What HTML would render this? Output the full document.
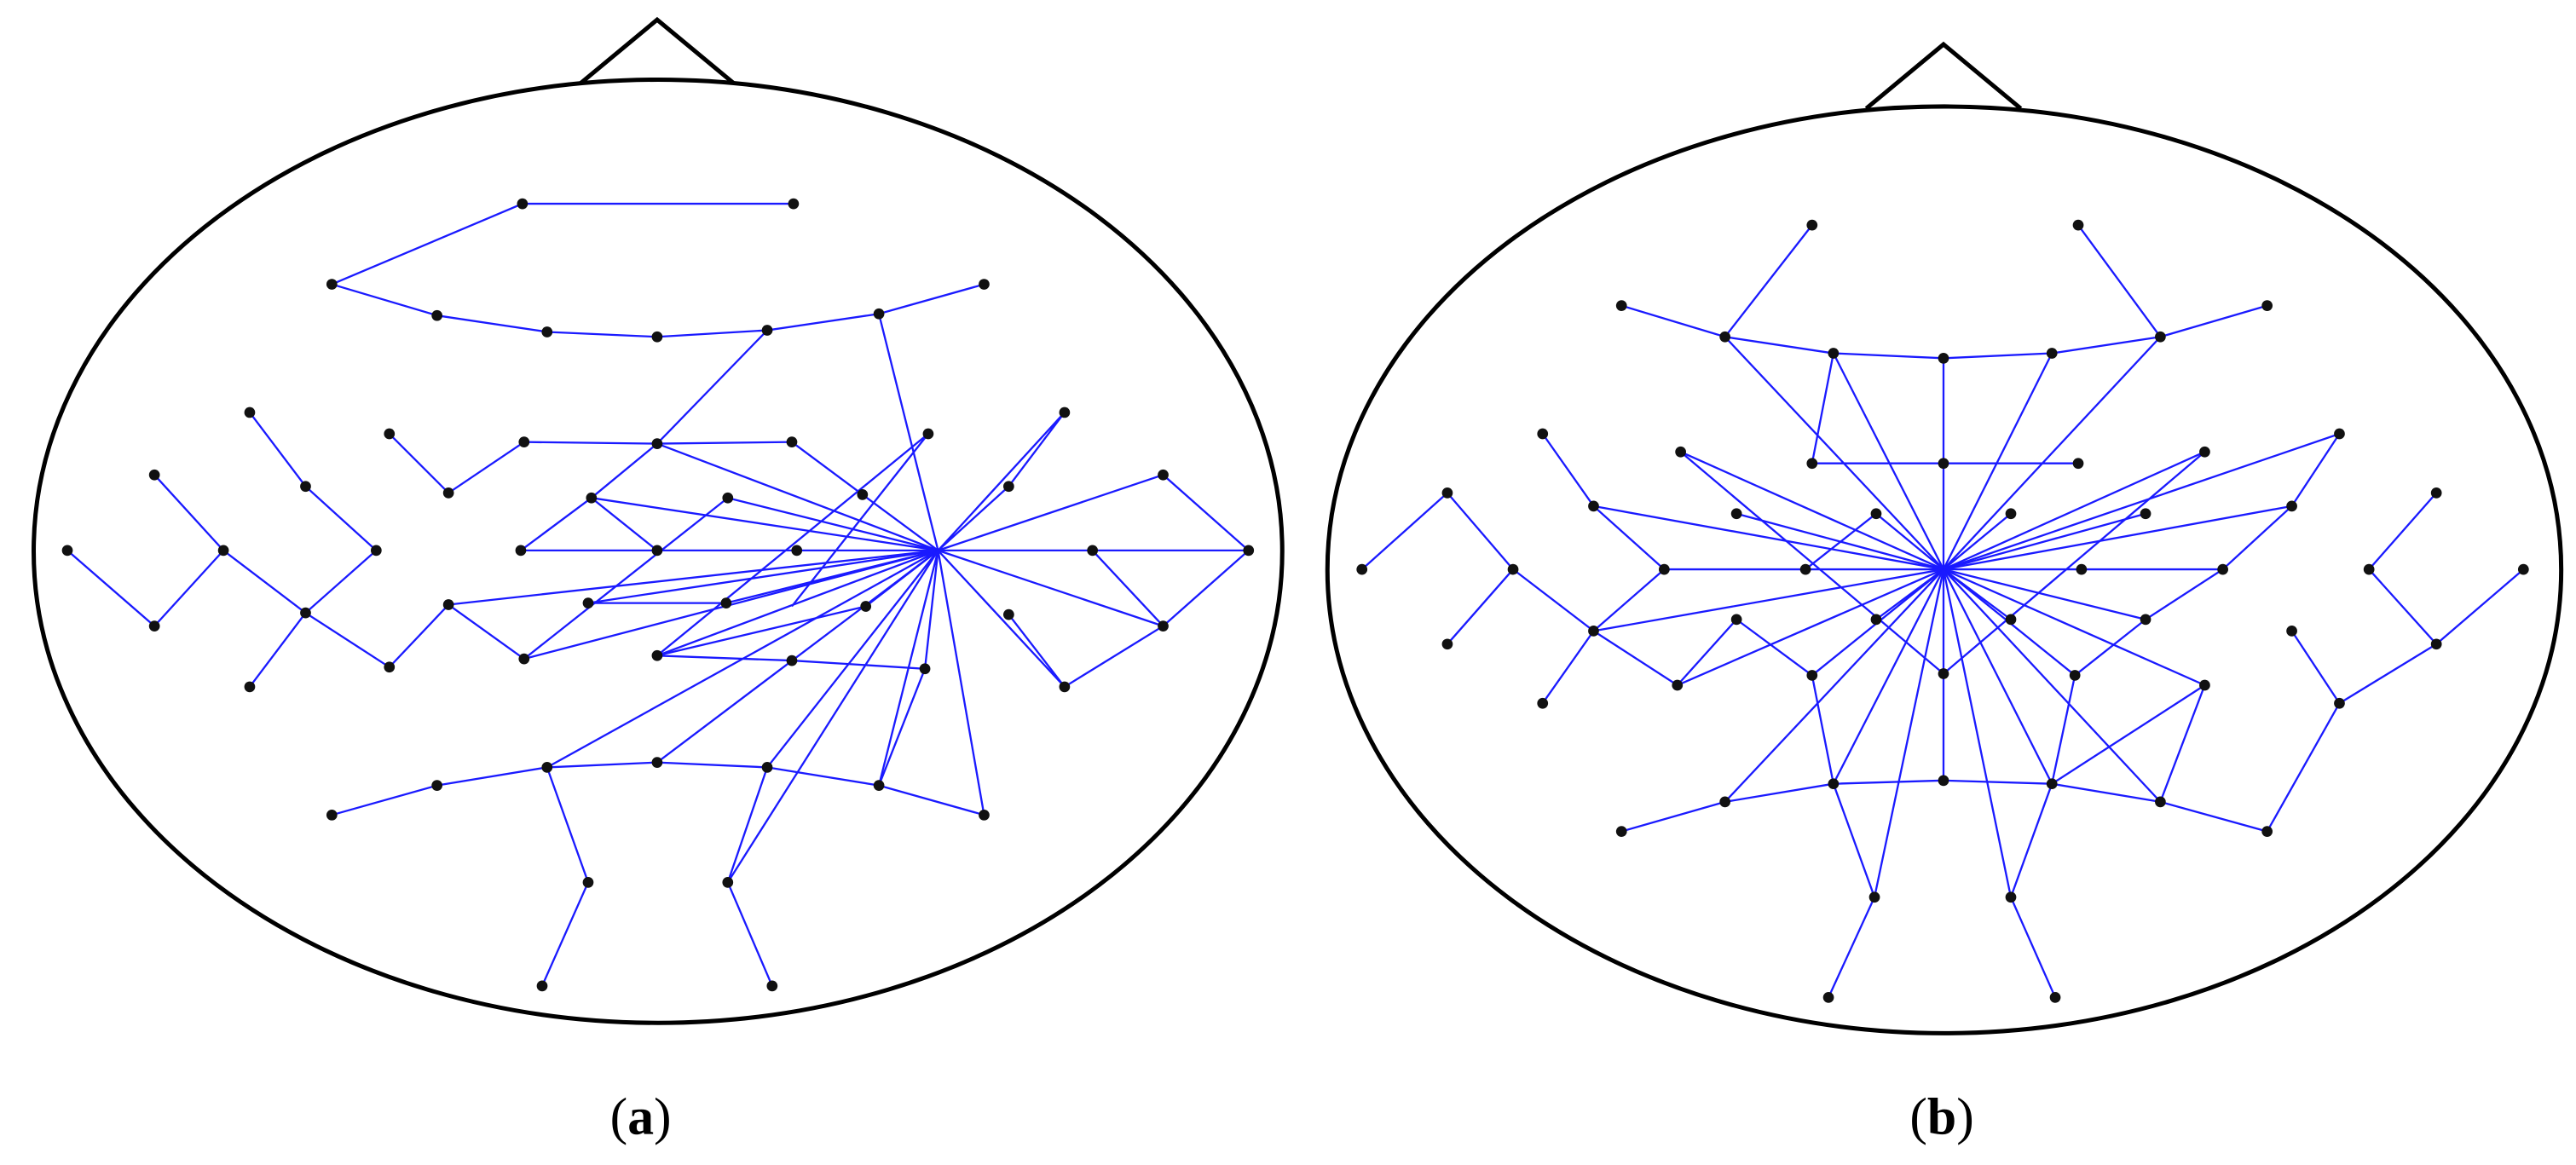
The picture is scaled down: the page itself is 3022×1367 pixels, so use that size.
<!DOCTYPE html>
<html><head><meta charset="utf-8"><style>
html,body{margin:0;padding:0;background:#fff;}
svg{display:block;}
</style></head><body>
<svg width="3022" height="1367" viewBox="0 0 1568 709" preserveAspectRatio="none" xmlns="http://www.w3.org/2000/svg">
<rect width="1568" height="709" fill="#fff"/>
<g fill="none" stroke="#000" stroke-width="2.6">
<polyline points="353,51 400,12 447,51"/>
<ellipse cx="400.5" cy="335.5" rx="380" ry="287" fill="#fff"/>
<polyline points="1136,66 1183,27 1230,66"/>
<ellipse cx="1183.5" cy="346.8" rx="375.5" ry="282" fill="#fff"/>
</g>
<g stroke="#1a1aff" stroke-width="1.2" fill="none">
<polyline points="202,173 318,124 483,124"/>
<polyline points="202,173 266,192 333,202 400,205 467,201 535,191 599,173"/>
<polyline points="535,191 571,335"/>
<polyline points="467,201 400,270 360,303 317,335"/>
<polyline points="319,269 400,270 482,269 525,301 571,335"/>
<polyline points="400,270 571,335"/>
<polyline points="237,264 273,300 319,269"/>
<polyline points="152,251 186,296 229,335 186,373 152,418"/>
<polyline points="94,289 136,335 94,381 41,335"/>
<polyline points="136,335 186,373 237,406 273,368 319,401 571,335"/>
<polyline points="273,368 571,335"/>
<polyline points="319,401 443,303 571,335"/>
<polyline points="360,303 400,335"/>
<polyline points="360,303 571,335"/>
<polyline points="317,335 571,335"/>
<polyline points="358,367 442,367 571,335"/>
<polyline points="358,367 571,335"/>
<polyline points="400,399 571,335"/>
<polyline points="400,399 482,402 563,407 571,335"/>
<polyline points="400,399 527,369 571,335"/>
<polyline points="565,264 482,369"/>
<polyline points="565,264 400,399"/>
<polyline points="571,335 648,251 614,296 571,335"/>
<polyline points="571,335 708,289 760,335 708,381 648,418 571,335"/>
<polyline points="571,335 760,335"/>
<polyline points="571,335 708,381 665,335"/>
<polyline points="614,374 648,418"/>
<polyline points="202,496 266,478 333,467 400,464 467,467 535,478 599,496"/>
<polyline points="333,467 571,335"/>
<polyline points="400,464 571,335"/>
<polyline points="467,467 571,335"/>
<polyline points="535,478 571,335"/>
<polyline points="535,478 563,407"/>
<polyline points="599,496 571,335"/>
<polyline points="333,467 358,537 330,600"/>
<polyline points="470,600 443,537 467,467"/>
<polyline points="443,537 571,335"/>
</g>
<g fill="#111">
<circle cx="318" cy="124" r="3.3"/><circle cx="483" cy="124" r="3.3"/>
<circle cx="202" cy="173" r="3.3"/><circle cx="266" cy="192" r="3.3"/><circle cx="333" cy="202" r="3.3"/><circle cx="400" cy="205" r="3.3"/><circle cx="467" cy="201" r="3.3"/><circle cx="535" cy="191" r="3.3"/><circle cx="599" cy="173" r="3.3"/>
<circle cx="152" cy="251" r="3.3"/><circle cx="237" cy="264" r="3.3"/><circle cx="565" cy="264" r="3.3"/><circle cx="648" cy="251" r="3.3"/>
<circle cx="319" cy="269" r="3.3"/><circle cx="400" cy="270" r="3.3"/><circle cx="482" cy="269" r="3.3"/>
<circle cx="94" cy="289" r="3.3"/><circle cx="186" cy="296" r="3.3"/><circle cx="273" cy="300" r="3.3"/><circle cx="360" cy="303" r="3.3"/><circle cx="443" cy="303" r="3.3"/><circle cx="525" cy="301" r="3.3"/><circle cx="614" cy="296" r="3.3"/><circle cx="708" cy="289" r="3.3"/>
<circle cx="41" cy="335" r="3.3"/><circle cx="136" cy="335" r="3.3"/><circle cx="229" cy="335" r="3.3"/><circle cx="317" cy="335" r="3.3"/><circle cx="400" cy="335" r="3.3"/><circle cx="485" cy="335" r="3.3"/><circle cx="665" cy="335" r="3.3"/><circle cx="760" cy="335" r="3.3"/>
<circle cx="94" cy="381" r="3.3"/><circle cx="186" cy="373" r="3.3"/><circle cx="273" cy="368" r="3.3"/><circle cx="358" cy="367" r="3.3"/><circle cx="442" cy="367" r="3.3"/><circle cx="527" cy="369" r="3.3"/><circle cx="614" cy="374" r="3.3"/><circle cx="708" cy="381" r="3.3"/>
<circle cx="152" cy="418" r="3.3"/><circle cx="237" cy="406" r="3.3"/><circle cx="319" cy="401" r="3.3"/><circle cx="400" cy="399" r="3.3"/><circle cx="482" cy="402" r="3.3"/><circle cx="563" cy="407" r="3.3"/><circle cx="648" cy="418" r="3.3"/>
<circle cx="202" cy="496" r="3.3"/><circle cx="266" cy="478" r="3.3"/><circle cx="333" cy="467" r="3.3"/><circle cx="400" cy="464" r="3.3"/><circle cx="467" cy="467" r="3.3"/><circle cx="535" cy="478" r="3.3"/><circle cx="599" cy="496" r="3.3"/>
<circle cx="358" cy="537" r="3.3"/><circle cx="443" cy="537" r="3.3"/><circle cx="330" cy="600" r="3.3"/><circle cx="470" cy="600" r="3.3"/>
</g>
<g stroke="#1a1aff" stroke-width="1.2" fill="none">
<polyline points="987,186 1050,205 1116,215 1183,218 1249,215 1315,205 1380,186"/>
<polyline points="1103,137 1050,205 1183,346.5"/>
<polyline points="1265,137 1315,205 1183,346.5"/>
<polyline points="1116,215 1103,282 1265,282"/>
<polyline points="1116,215 1183,346.5"/><polyline points="1183,218 1183,346.5"/><polyline points="1249,215 1183,346.5"/>
<polyline points="1023,275 1183,346.5"/><polyline points="1342,275 1183,346.5"/>
<polyline points="1023,275 1183,410 1342,275"/>
<polyline points="939,264 970,308 1013,346.5 1183,346.5"/>
<polyline points="970,308 1183,346.5"/>
<polyline points="970,384 1013,346.5"/>
<polyline points="1424,264 1395,308 1353,346.5 1306,377 1263,411"/>
<polyline points="1424,264 1183,346.5"/><polyline points="1395,308 1183,346.5"/>
<polyline points="1353,346.5 1183,346.5"/>
<polyline points="829,346.5 881,300 921,346.5 881,392"/>
<polyline points="921,346.5 970,384 939,428"/>
<polyline points="970,384 1183,346.5"/>
<polyline points="970,384 1021,417 1057,377"/>
<polyline points="1021,417 1183,346.5"/>
<polyline points="1099,346.5 1142,312.6"/>
<polyline points="1057,312.6 1183,346.5"/><polyline points="1306,312.6 1183,346.5"/>
<polyline points="1142,312.6 1183,346.5"/><polyline points="1224,312.6 1183,346.5"/>
<polyline points="1142,377 1183,346.5"/><polyline points="1224,377 1183,346.5"/>
<polyline points="1306,377 1183,346.5"/>
<polyline points="1057,377 1103,411 1116,477"/>
<polyline points="1103,411 1183,346.5"/>
<polyline points="1263,411 1183,346.5"/><polyline points="1263,411 1249,477"/>
<polyline points="1342,417 1183,346.5"/><polyline points="1342,417 1249,477"/>
<polyline points="1342,417 1315,488 1380,506 1424,428 1483,392 1536,346.5"/>
<polyline points="1483,392 1442,346.5 1483,300"/>
<polyline points="1395,384 1424,428"/>
<polyline points="1315,488 1183,346.5"/>
<polyline points="987,506 1050,488 1116,477 1183,475 1249,477 1315,488"/>
<polyline points="1050,488 1183,346.5"/>
<polyline points="1183,346.5 1183,475"/>
<polyline points="1116,477 1183,346.5"/><polyline points="1249,477 1183,346.5"/>
<polyline points="1113,607 1141,546 1116,477"/><polyline points="1141,546 1183,346.5"/>
<polyline points="1251,607 1224,546 1249,477"/><polyline points="1224,546 1183,346.5"/>
</g>
<g fill="#111">
<circle cx="1103" cy="137" r="3.3"/><circle cx="1265" cy="137" r="3.3"/>
<circle cx="987" cy="186" r="3.3"/><circle cx="1050" cy="205" r="3.3"/><circle cx="1116" cy="215" r="3.3"/><circle cx="1183" cy="218" r="3.3"/><circle cx="1249" cy="215" r="3.3"/><circle cx="1315" cy="205" r="3.3"/><circle cx="1380" cy="186" r="3.3"/>
<circle cx="939" cy="264" r="3.3"/><circle cx="1023" cy="275" r="3.3"/><circle cx="1103" cy="282" r="3.3"/><circle cx="1183" cy="282" r="3.3"/><circle cx="1265" cy="282" r="3.3"/><circle cx="1342" cy="275" r="3.3"/><circle cx="1424" cy="264" r="3.3"/>
<circle cx="881" cy="300" r="3.3"/><circle cx="970" cy="308" r="3.3"/><circle cx="1057" cy="312.6" r="3.3"/><circle cx="1142" cy="312.6" r="3.3"/><circle cx="1224" cy="312.6" r="3.3"/><circle cx="1306" cy="312.6" r="3.3"/><circle cx="1395" cy="308" r="3.3"/><circle cx="1483" cy="300" r="3.3"/>
<circle cx="829" cy="346.5" r="3.3"/><circle cx="921" cy="346.5" r="3.3"/><circle cx="1013" cy="346.5" r="3.3"/><circle cx="1099" cy="346.5" r="3.3"/><circle cx="1267" cy="346.5" r="3.3"/><circle cx="1353" cy="346.5" r="3.3"/><circle cx="1442" cy="346.5" r="3.3"/><circle cx="1536" cy="346.5" r="3.3"/>
<circle cx="881" cy="392" r="3.3"/><circle cx="970" cy="384" r="3.3"/><circle cx="1057" cy="377" r="3.3"/><circle cx="1142" cy="377" r="3.3"/><circle cx="1224" cy="377" r="3.3"/><circle cx="1306" cy="377" r="3.3"/><circle cx="1395" cy="384" r="3.3"/><circle cx="1483" cy="392" r="3.3"/>
<circle cx="939" cy="428" r="3.3"/><circle cx="1021" cy="417" r="3.3"/><circle cx="1103" cy="411" r="3.3"/><circle cx="1183" cy="410" r="3.3"/><circle cx="1263" cy="411" r="3.3"/><circle cx="1342" cy="417" r="3.3"/><circle cx="1424" cy="428" r="3.3"/>
<circle cx="987" cy="506" r="3.3"/><circle cx="1050" cy="488" r="3.3"/><circle cx="1116" cy="477" r="3.3"/><circle cx="1183" cy="475" r="3.3"/><circle cx="1249" cy="477" r="3.3"/><circle cx="1315" cy="488" r="3.3"/><circle cx="1380" cy="506" r="3.3"/>
<circle cx="1141" cy="546" r="3.3"/><circle cx="1224" cy="546" r="3.3"/><circle cx="1113" cy="607" r="3.3"/><circle cx="1251" cy="607" r="3.3"/>
</g>
<g font-family="'Liberation Serif', serif" font-size="32" fill="#000" text-anchor="middle">
<text x="390" y="690">(<tspan font-weight="bold">a</tspan>)</text>
<text x="1182" y="690">(<tspan font-weight="bold">b</tspan>)</text>
</g>
</svg>
</body></html>
